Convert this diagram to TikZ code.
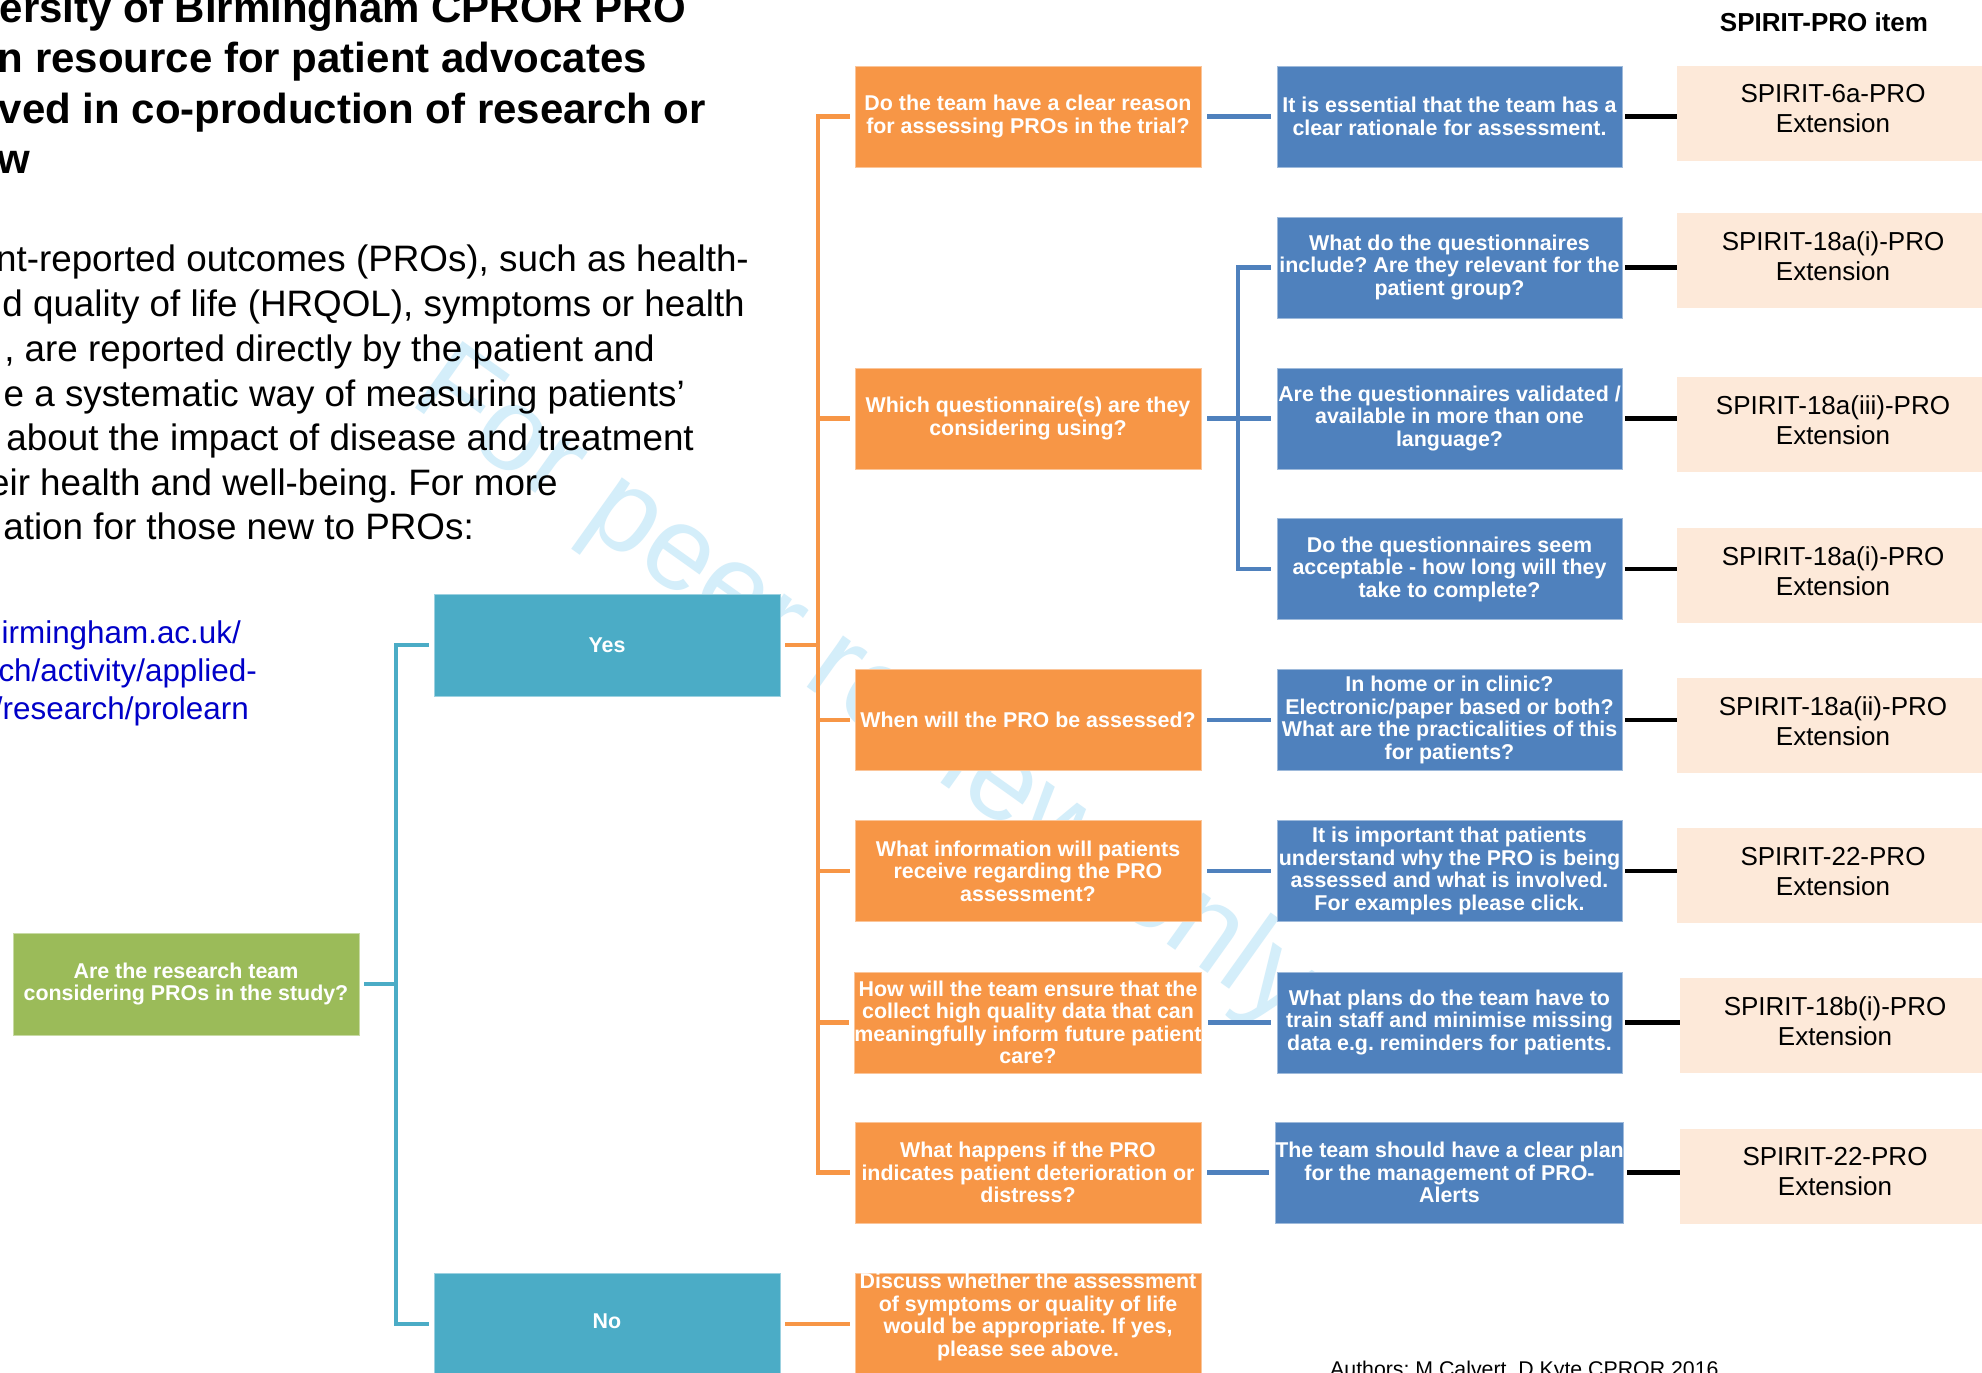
\documentclass[tikz,border=0pt]{standalone}
\usepackage{fontspec}
\setmainfont{Liberation Sans}
\frenchspacing
\definecolor{orng}{RGB}{247,150,70}
\definecolor{blu}{RGB}{79,129,189}
\definecolor{tealc}{RGB}{75,172,198}
\definecolor{grn}{RGB}{155,187,89}
\definecolor{peach}{RGB}{253,233,217}
\definecolor{urlblue}{RGB}{0,0,200}
\definecolor{wmark}{RGB}{212,238,250}
\begin{document}
\begin{tikzpicture}[x=1pt,y=-1pt,
  box/.style={rectangle, inner sep=0pt, align=center, text=white,
    font=\bfseries\fontsize{21.4}{22.5}\selectfont, line width=0.8pt},
  obox/.style={box, fill=orng, draw=orng!55!white, minimum width=346pt, minimum height=101pt},
  bbox/.style={box, fill=blu, draw=blu!55!white, minimum width=345pt, minimum height=101pt},
  tbox/.style={box, fill=tealc, draw=tealc!55!white, minimum width=346pt, minimum height=102pt},
  gbox/.style={box, fill=grn, draw=grn!55!white, minimum width=346pt, minimum height=102pt},
  pbox/.style={rectangle, inner sep=0pt, fill=peach, minimum width=312pt, minimum height=95pt},
  ptxt/.style={inner sep=0pt, align=center, text=black, font=\fontsize{26}{30}\selectfont},
  titletxt/.style={anchor=base east, inner sep=0pt, font=\bfseries\fontsize{42}{50}\selectfont},
  bodytxt/.style={anchor=base east, inner sep=0pt, font=\fontsize{36.8}{44}\selectfont},
  urltxt/.style={anchor=base east, inner sep=0pt, text=urlblue, font=\fontsize{31.4}{38}\selectfont},
  tline/.style={draw=tealc, line width=4.5pt, line join=miter},
  oline/.style={draw=orng, line width=4.5pt, line join=miter},
  bline/.style={draw=blu, line width=4.5pt, line join=miter},
  kline/.style={draw=black, line width=4.5pt}
]
\useasboundingbox (0,0) rectangle (1982,1373);
\clip (0,0) rectangle (1982,1373);
\fill[white] (0,0) rectangle (1982,1373);

% watermark
\node[text=wmark, rotate=-35.5, inner sep=0pt, font=\fontsize{119}{119}\selectfont] (wm) at (864,690) {For peer review only};

% title
\node[titletxt] (ti1) at (686,22) {ersity of Birmingham CPROR PRO};
\node[titletxt] (ti2) at (647,72) {n resource for patient advocates};
\node[titletxt] (ti3) at (706,123) {ved in co-production of research or};
\node[titletxt] (ti4) at (30,173) {w};

% body
\node[bodytxt] (bd1) at (749,271) {nt-reported outcomes (PROs), such as health-};
\node[bodytxt] (bd2) at (745,316) {d quality of life (HRQOL), symptoms or health};
\node[bodytxt] (bd3) at (655,361) {, are reported directly by the patient and};
\node[bodytxt] (bd4) at (685,406) {e a systematic way of measuring patients’};
\node[bodytxt] (bd5) at (694,450) {about the impact of disease and treatment};
\node[bodytxt] (bd6) at (558,495) {eir health and well-being. For more};
\node[bodytxt] (bd7) at (474,539) {ation for those new to PROs:};

% url
\node[urltxt] (u1) at (241,643) {irmingham.ac.uk/};
\node[urltxt] (u2) at (257,681) {ch/activity/applied-};
\node[urltxt] (u3) at (249,719) {/research/prolearn};

% header and footer
\node[anchor=base, inner sep=0pt, font=\bfseries\fontsize{26}{30}\selectfont] (hdr) at (1824,31) {SPIRIT-PRO item};
\node[anchor=base west, inner sep=0pt, font=\fontsize{21.3}{24}\selectfont] (auth) at (1330,1376) {Authors: M Calvert, D Kyte CPROR 2016};

% green and teal
\node[gbox] (green) at (186,984) {Are the research team\\considering PROs in the study?};
\node[tbox] (yes) at (607,645) {Yes};
\node[tbox] (no) at (607,1324) {\raisebox{6pt}{No}};

% orange column
\node[obox] (o1) at (1028,116.5) {Do the team have a clear reason\\for assessing PROs in the trial?};
\node[obox] (o2) at (1028,418.5) {Which questionnaire(s) are they\\considering using?};
\node[obox] (o3) at (1028,720) {When will the PRO be assessed?};
\node[obox] (o4) at (1028,871) {What information will patients\\receive regarding the PRO\\assessment?};
\node[obox] (o5) at (1028,1022.5) {How will the team ensure that the\\collect high quality data that can\\meaningfully inform future patient\\care?};
\node[obox] (o6) at (1028,1172.5) {What happens if the PRO\\indicates patient deterioration or\\distress?};
\node[obox, minimum height=102pt] (o7) at (1028,1324) {};
\node[box, anchor=center] (o7t) at (1028,1317) {Discuss whether the assessment\\of symptoms or quality of life\\would be appropriate. If yes,\\please see above.};

% blue column
\node[bbox] (b1) at (1449.5,116.5) {It is essential that the team has a\\clear rationale for assessment.};
\node[bbox] (b2) at (1449.5,267.5) {What do the questionnaires\\include? Are they relevant for the\\patient group?};
\node[bbox] (b3) at (1449.5,418.5) {Are the questionnaires validated /\\available in more than one\\language?};
\node[bbox] (b4) at (1449.5,569) {Do the questionnaires seem\\acceptable - how long will they\\take to complete?};
\node[bbox] (b5) at (1449.5,720) {In home or in clinic?\\Electronic/paper based or both?\\What are the practicalities of this\\for patients?};
\node[bbox] (b6) at (1449.5,871) {It is important that patients\\understand why the PRO is being\\assessed and what is involved.\\For examples please click.};
\node[bbox] (b7) at (1449.5,1022.5) {What plans do the team have to\\train staff and minimise missing\\data e.g. reminders for patients.};
\node[bbox] (b8) at (1449.5,1172.5) {The team should have a clear plan\\for the management of PRO-\\Alerts};

% peach column
\node[pbox] (p1) at (1833,113) {};
\node[pbox] (p2) at (1833,260.5) {};
\node[pbox] (p3) at (1833,424) {};
\node[pbox] (p4) at (1833,575) {};
\node[pbox] (p5) at (1833,725.5) {};
\node[pbox] (p6) at (1833,875.5) {};
\node[pbox, minimum width=310pt] (p7) at (1835,1025) {};
\node[pbox, minimum width=310pt] (p8) at (1835,1176) {};
\node[ptxt] (pt1) at ([yshift=4pt]p1.center) {SPIRIT-6a-PRO\\Extension};
\node[ptxt] (pt2) at ([yshift=4pt]p2.center) {SPIRIT-18a(i)-PRO\\Extension};
\node[ptxt] (pt3) at ([yshift=4pt]p3.center) {SPIRIT-18a(iii)-PRO\\Extension};
\node[ptxt] (pt4) at ([yshift=4pt]p4.center) {SPIRIT-18a(i)-PRO\\Extension};
\node[ptxt] (pt5) at ([yshift=4pt]p5.center) {SPIRIT-18a(ii)-PRO\\Extension};
\node[ptxt] (pt6) at ([yshift=4pt]p6.center) {SPIRIT-22-PRO\\Extension};
\node[ptxt] (pt7) at ([yshift=4pt]p7.center) {SPIRIT-18b(i)-PRO\\Extension};
\node[ptxt] (pt8) at ([yshift=4pt]p8.center) {SPIRIT-22-PRO\\Extension};

% junction coordinates
\coordinate (tj) at (396,984);
\coordinate (oj) at (818,645);
\coordinate (bj) at (1238,418.5);

% teal connectors
\draw[tline] ([xshift=5pt]green.east) -- (tj);
\draw[tline] ([xshift=-5pt]yes.west) -- (yes.west -| tj) -- (no.west -| tj) -- ([xshift=-5pt]no.west);

% orange connectors
\draw[oline] ([xshift=5pt]yes.east) -- (oj);
\draw[oline] ([xshift=-5pt]o1.west) -- (o1.west -| oj) -- (o6.west -| oj) -- ([xshift=-5pt]o6.west);
\foreach \n in {o2,o3,o4,o5} {\draw[oline] (\n.west -| oj) -- ([xshift=-5pt]\n.west);}
\draw[oline] ([xshift=5pt]no.east) -- ([xshift=-5pt]o7.west);

% blue connectors
\draw[bline] ([xshift=6pt]o1.east) -- ([xshift=-6pt]b1.west);
\draw[bline] ([xshift=6pt]o2.east) -- ([xshift=-6pt]b3.west);
\draw[bline] ([xshift=-6pt]b2.west) -- (b2.west -| bj) -- (b4.west -| bj) -- ([xshift=-6pt]b4.west);
\draw[bline] ([xshift=6pt]o3.east) -- ([xshift=-6pt]b5.west);
\draw[bline] ([xshift=6pt]o4.east) -- ([xshift=-6pt]b6.west);
\draw[bline] ([xshift=6pt]o5.east) -- ([xshift=-6pt]b7.west);
\draw[bline] ([xshift=6pt]o6.east) -- ([xshift=-6pt]b8.west);

% black connectors
\foreach \i in {1,...,8} {\draw[kline] ([xshift=3pt]b\i.east) -- (b\i.east -| p\i.west);}
\end{tikzpicture}
\end{document}
